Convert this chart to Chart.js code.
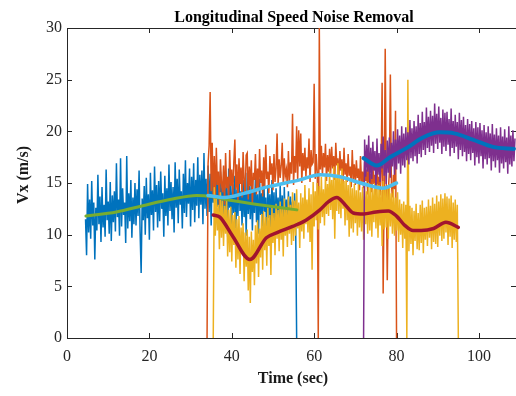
<!DOCTYPE html>
<html>
<head>
<meta charset="utf-8">
<script src="https://cdn.jsdelivr.net/npm/chart.js@4/dist/chart.umd.min.js"></script>
<style>
html,body{margin:0;padding:0;background:#fff;}
#wrap{width:516px;height:396px;}
</style>
</head>
<body>
<div id="wrap"><canvas id="c" width="516" height="396"></canvas></div>
<script>
// ---- Data ----
const titleText = 'Longitudinal Speed Noise Removal';
const xTitle = 'Time (sec)';
const yTitle = 'Vx (m/s)';
const xTicks = [0, 20, 40, 60, 80, 100];
const yTicks = [0, 5, 10, 15, 20, 25, 30];

// raw (noisy) signals, sampled every 0.25 s from their start time
const sampleStep = 0.25;
const blueStart = 4.5;
const blueVals = [
  11.5, 8.0, 14.9, 10.2, 13.4, 9.6, 15.2, 10.9,
  13.1, 7.6, 12.6, 10.4, 15.8, 11.0, 13.7, 9.3,
  14.6, 10.7, 12.9, 9.8, 16.3, 11.4, 13.2, 10.1,
  15.1, 9.4, 13.8, 11.2, 14.2, 10.3, 16.9, 11.7,
  13.4, 9.9, 17.4, 10.8, 14.5, 11.9, 13.1, 9.2,
  17.6, 10.6, 14.0, 11.3, 15.3, 9.7, 13.6, 11.0,
  15.0, 10.9, 14.4, 11.8, 16.2, 10.2, 6.3, 13.5,
  11.4, 14.7, 10.0, 15.5, 11.6, 13.9, 9.5, 16.0,
  11.9, 14.3, 10.4, 16.6, 12.2, 14.8, 10.7, 15.2,
  11.3, 16.1, 12.5, 14.0, 9.8, 15.7, 11.8, 14.5,
  10.9, 16.8, 12.3, 15.1, 11.5, 14.6, 10.2, 17.0,
  12.6, 15.4, 11.1, 16.3, 12.9, 14.2, 10.6, 15.9,
  12.1, 17.2, 11.7, 15.0, 13.0, 16.4, 10.8, 15.6,
  12.4, 16.9, 11.2, 15.3, 12.8, 17.5, 11.6, 15.8,
  12.9, 16.2, 11.0, 17.9, 12.5, 15.4, 11.8, 16.7,
  12.2, 15.9, 10.9, 16.5, 13.1, 15.0, 11.4, 16.0,
  12.7, 15.2, 10.5, 16.1, 12.0, 14.8, 11.3, 15.6,
  12.4, 14.6, 9.8, 16.4, 12.6, 15.1, 11.0, 14.9,
  12.1, 15.7, 10.6, 14.4, 11.8, 15.9, 12.3, 14.2,
  10.9, 15.3, 11.7, 14.6, 9.9, 16.0, 12.0, 14.7,
  11.5, 15.2, 10.4, 14.3, 12.1, 15.6, 11.2, 13.9,
  10.1, 15.4, 11.9, 14.0, 10.8, 15.7, 12.2, 13.6,
  9.7, 14.8, 11.6, 13.9, 10.5, 15.3, 11.4, 14.1,
  10.0, 14.5, 11.8, 13.6, 10.3, 14.8, 11.2, 13.8,
  9.5, 14.6, 11.0, 13.4, 10.4, 14.2, 10.9, 13.7,
  11.6, 13.2, 10.6, 14.0, 11.5, 0
];
const orangeStart = 34;
const orangeVals = [
  0, 16.9, 18.6, 23.8, 14.2, 18.9, 13.5, 17.6,
  13.2, 18.4, 14.8, 16.1, 12.8, 17.3, 15.0, 14.1,
  16.7, 12.9, 17.9, 14.5, 15.6, 13.3, 18.2, 14.7,
  16.3, 13.8, 17.0, 19.2, 14.4, 16.8, 13.1, 17.4,
  14.9, 16.5, 13.6, 18.0, 15.2, 14.0, 17.7, 17.9,
  13.4, 16.6, 14.7, 17.2, 12.9, 16.0, 15.3, 17.8,
  13.9, 16.4, 14.2, 18.3, 15.0, 16.2, 13.7, 17.5,
  14.6, 18.7, 15.4, 16.1, 14.0, 17.6, 15.8, 16.9,
  14.3, 17.8, 15.1, 16.4, 19.8, 14.8, 17.3, 15.5,
  16.7, 18.9, 14.9, 17.4, 15.7, 16.3, 14.6, 18.1,
  15.2, 17.0, 15.9, 21.7, 14.8, 17.6, 16.0, 20.5,
  15.3, 20.1, 16.6, 19.8, 15.0, 17.9, 16.2, 18.4,
  15.6, 17.5, 16.4, 19.3, 15.1, 18.2, 16.8, 17.0,
  24.6, 15.4, 17.8, 16.0, 0, 30, 16.3, 18.6,
  15.7, 17.9, 16.5, 18.8, 15.2, 17.7, 16.1, 18.3,
  15.9, 18.5, 16.4, 17.6, 15.3, 18.9, 16.7, 17.4,
  15.6, 18.1, 16.2, 17.3, 14.9, 18.4, 15.8, 16.9,
  15.1, 17.8, 15.7, 16.6, 14.6, 18.2, 15.4, 16.8,
  14.8, 17.2, 15.5, 16.4, 14.3, 17.6, 15.0, 16.1,
  14.5, 17.0, 15.2, 16.3, 13.9, 17.3, 14.7, 15.9,
  14.1, 16.7, 14.9, 15.8, 13.7, 16.9, 14.4, 15.6,
  13.8, 16.2, 24.7, 4.3, 14.6, 28.0, 15.1, 5.6,
  14.2, 16.0, 25.5, 14.9, 13.6, 15.8, 14.4, 22.0,
  0
];
const yellowStart = 35.5;
const yellowVals = [
  0, 14.6, 9.9, 13.8, 10.4, 12.9, 8.6, 14.1,
  9.7, 13.3, 8.9, 12.8, 10.1, 13.6, 7.9, 12.4,
  8.3, 12.7, 7.4, 11.9, 9.0, 12.2, 6.8, 11.5,
  7.6, 11.8, 6.2, 10.7, 8.3, 11.1, 5.5, 10.2,
  6.9, 10.5, 4.6, 9.8, 3.4, 10.3, 6.4, 9.5,
  5.1, 10.9, 7.2, 11.4, 5.9, 10.6, 7.8, 12.0,
  6.6, 12.3, 8.5, 11.7, 7.0, 12.6, 8.9, 11.9,
  6.1, 12.8, 9.2, 12.1, 8.0, 13.0, 9.6, 12.4,
  8.4, 13.2, 9.5, 12.7, 7.9, 13.5, 9.9, 12.5,
  8.8, 13.7, 10.1, 12.9, 9.0, 14.1, 9.4, 13.3,
  9.9, 14.4, 10.6, 13.1, 8.7, 14.0, 10.3, 13.6,
  9.6, 14.8, 11.0, 13.4, 10.2, 14.5, 9.3, 13.9,
  6.6, 15.1, 10.8, 14.2, 11.4, 15.0, 10.5, 14.7,
  11.1, 15.6, 11.7, 14.4, 10.9, 15.8, 12.0, 14.9,
  11.8, 16.2, 12.4, 15.3, 11.5, 16.6, 9.6, 15.8,
  12.3, 16.9, 12.0, 15.7, 11.6, 16.4, 12.5, 15.2,
  10.9, 15.6, 11.4, 14.8, 9.8, 15.3, 10.6, 14.5,
  10.2, 14.9, 11.1, 14.3, 9.9, 15.0, 10.7, 14.1,
  10.3, 14.6, 9.5, 14.8, 11.0, 14.2, 10.1, 15.1,
  10.4, 14.7, 9.8, 14.4, 11.2, 15.0, 10.6, 14.9,
  9.7, 14.8, 10.9, 14.3, 8.9, 15.2, 10.5, 14.6,
  10.7, 14.5, 9.6, 14.9, 10.8, 14.0, 10.1, 14.4,
  9.9, 13.6, 10.4, 14.1, 9.3, 13.4, 10.0, 13.0,
  8.7, 13.2, 9.6, 12.9, 0, 25.0, 8.4, 12.8,
  9.1, 12.6, 8.0, 12.3, 9.4, 13.0, 8.6, 12.1,
  8.5, 12.9, 9.2, 13.3, 8.2, 12.6, 9.5, 12.7,
  8.9, 13.4, 9.7, 12.8, 8.6, 13.6, 9.3, 13.0,
  9.1, 13.8, 8.8, 13.2, 9.9, 13.9, 9.4, 13.5,
  9.6, 14.0, 10.2, 13.7, 9.0, 13.5, 9.8, 13.8,
  8.7, 13.1, 9.5, 13.4, 9.3, 12.9, 0
];
const purpleStart = 72;
const purpleVals = [
  0, 19.2, 15.6, 18.7, 16.1, 19.6, 15.0, 18.4,
  15.4, 19.0, 16.2, 18.1, 14.5, 19.3, 15.8, 17.9,
  15.1, 18.8, 16.4, 19.5, 15.7, 18.2, 14.9, 19.1,
  16.0, 19.4, 15.5, 18.9, 16.6, 20.0, 15.8, 19.2,
  16.3, 20.2, 16.9, 19.6, 15.9, 20.5, 16.7, 19.8,
  16.5, 20.4, 17.2, 19.9, 16.8, 21.1, 17.4, 20.3,
  17.1, 21.0, 17.6, 20.5, 16.9, 21.6, 17.8, 20.8,
  17.5, 21.9, 18.2, 20.9, 17.7, 22.3, 18.4, 21.4,
  18.0, 22.0, 18.6, 21.5, 17.9, 22.7, 18.8, 21.7,
  18.3, 22.4, 18.9, 21.3, 17.8, 22.1, 18.5, 21.8,
  18.1, 21.9, 18.7, 21.2, 17.6, 22.2, 18.4, 21.0,
  17.9, 21.6, 18.5, 20.9, 17.3, 21.8, 18.2, 21.1,
  17.6, 21.4, 18.0, 20.6, 17.1, 21.2, 17.8, 20.7,
  17.2, 21.0, 17.9, 20.3, 16.7, 20.9, 17.5, 20.4,
  16.9, 20.8, 17.6, 20.1, 16.4, 20.6, 17.3, 19.9,
  16.8, 20.5, 17.4, 19.8, 16.2, 20.7, 17.1, 19.7,
  16.5, 20.3, 17.2, 19.6, 16.0, 20.4, 16.9, 19.5,
  16.4, 20.2, 17.0, 19.4, 15.9, 20.5, 16.8, 19.6,
  16.6, 20.1, 17.1, 19.3
];

// filtered (smooth) signals
const greenT   = [4.6, 12, 18.4, 25, 31.5, 35, 40, 48.4, 55.8];
const greenV   = [11.8, 12.2, 12.8, 13.4, 13.8, 13.7, 13.3, 12.8, 12.4];
const cyanT    = [34.2, 38.3, 43, 48.4, 56.5, 61.4, 66.3, 70.4, 73, 76.7, 80];
const cyanV    = [13.8, 13.6, 14.0, 14.6, 15.3, 15.8, 15.6, 15.1, 14.8, 14.5, 15.0];
const redT     = [35.5, 37.1, 40.3, 44.4, 48.4, 51, 54.8, 58, 61.4, 63.5, 65.5, 67.5, 69.5, 72, 75, 78, 80, 82, 84, 86, 89, 92, 95];
const redV     = [11.9, 11.7, 9.8, 7.6, 9.7, 10.2, 10.8, 11.4, 12.4, 13.2, 13.6, 12.9, 12.1, 12.0, 12.2, 12.3, 11.8, 10.9, 10.4, 10.4, 10.6, 11.2, 10.7];
const dblueT   = [72, 75.2, 78.4, 82.5, 86.4, 90.5, 94, 98.5, 103.4, 108.5];
const dblueV   = [17.4, 16.7, 17.5, 18.4, 19.4, 19.9, 19.8, 19.2, 18.5, 18.3];

// ---- helpers ----
function sampled(start, vals) {
  return vals.map((v, i) => ({ x: start + i * sampleStep, y: v }));
}
function paired(ts, vs) {
  return ts.map((t, i) => ({ x: t, y: vs[i] }));
}

const AX = '#262626';
const SERIF = "'Liberation Serif', 'Times New Roman', Times, serif";

function noisy(data, color, order) {
  return { data, borderColor: color, borderWidth: 1.5, pointRadius: 0, tension: 0, order };
}
function smooth(data, color, width, order) {
  return { data, borderColor: color, borderWidth: width, pointRadius: 0,
           cubicInterpolationMode: 'monotone', borderCapStyle: 'round', borderJoinStyle: 'round', order };
}

const framePlugin = {
  id: 'frame',
  beforeDatasetsDraw(chart) {
    const { ctx, chartArea: a, scales } = chart;
    ctx.save();
    ctx.strokeStyle = AX;
    ctx.lineWidth = 1;
    ctx.beginPath();
    ctx.rect(Math.round(a.left) + 0.5, Math.round(a.top) + 0.5, Math.round(a.right - a.left), Math.round(a.bottom - a.top));
    ctx.stroke();
    const L = 5;
    ctx.beginPath();
    xTicks.forEach(v => {
      const px = Math.round(scales.x.getPixelForValue(v)) + 0.5;
      ctx.moveTo(px, a.bottom); ctx.lineTo(px, a.bottom - L);
      ctx.moveTo(px, a.top); ctx.lineTo(px, a.top + L);
    });
    yTicks.forEach(v => {
      const py = Math.round(scales.y.getPixelForValue(v)) + 0.5;
      ctx.moveTo(a.left, py); ctx.lineTo(a.left + L, py);
      ctx.moveTo(a.right, py); ctx.lineTo(a.right - L, py);
    });
    ctx.stroke();
    ctx.restore();
  },
  afterDraw(chart) {
    const { ctx } = chart;
    ctx.save();
    ctx.fillStyle = '#000';
    ctx.font = 'bold 16px ' + SERIF;
    ctx.textAlign = 'center';
    ctx.textBaseline = 'alphabetic';
    ctx.fillText(titleText, 294, 22);
    ctx.fillStyle = '#1a1a1a';
    ctx.fillText(xTitle, 293, 383);
    ctx.translate(28, 175);
    ctx.rotate(-Math.PI / 2);
    ctx.fillText(yTitle, 0, 0);
    ctx.restore();
  }
};

new Chart(document.getElementById('c'), {
  type: 'line',
  data: {
    datasets: [
      noisy(sampled(blueStart, blueVals), '#0072BD', 8),
      noisy(sampled(orangeStart, orangeVals), '#D95319', 7),
      noisy(sampled(yellowStart, yellowVals), '#EDB120', 6),
      noisy(sampled(purpleStart, purpleVals), '#7E2F8E', 5),
      smooth(paired(greenT, greenV), '#77AC30', 3, 4),
      smooth(paired(cyanT, cyanV), '#4DBEEE', 3.5, 3),
      smooth(paired(redT, redV), '#A2142F', 3.5, 2),
      smooth(paired(dblueT, dblueV), '#0072BD', 4, 1)
    ]
  },
  options: {
    responsive: false,
    animation: false,
    events: [],
    layout: { padding: { top: 28, left: 0, right: 0, bottom: 0 } },
    plugins: { legend: { display: false }, tooltip: { enabled: false }, title: { display: false } },
    scales: {
      x: {
        type: 'linear', min: 0, max: 109,
        grid: { display: false, drawTicks: false },
        border: { display: false },
        afterBuildTicks: s => { s.ticks = xTicks.map(v => ({ value: v })); },
        afterFit: s => { s.height = 58; },
        ticks: { color: AX, font: { family: SERIF, size: 16 }, padding: 9, maxRotation: 0, autoSkip: false }
      },
      y: {
        type: 'linear', min: 0, max: 30,
        grid: { display: false, drawTicks: false },
        border: { display: false },
        afterBuildTicks: s => { s.ticks = yTicks.map(v => ({ value: v })); },
        afterFit: s => { s.width = 67; },
        ticks: { color: AX, font: { family: SERIF, size: 16 }, padding: 5, autoSkip: false }
      }
    }
  },
  plugins: [framePlugin]
});
</script>
</body>
</html>
